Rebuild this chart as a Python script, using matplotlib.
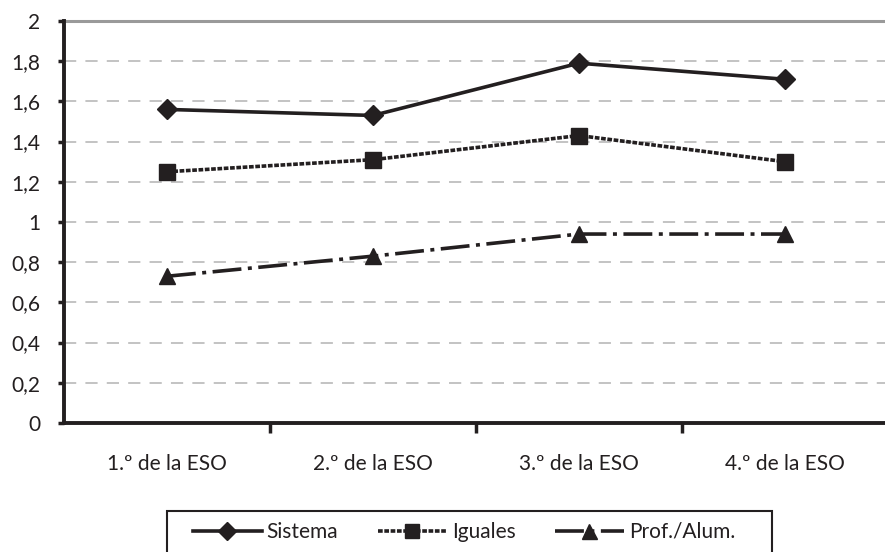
import matplotlib
matplotlib.use("Agg")
import matplotlib.pyplot as plt
from matplotlib.patches import Rectangle
from matplotlib.ticker import FuncFormatter

categories = ["1.º de la ESO", "2.º de la ESO", "3.º de la ESO", "4.º de la ESO"]
sistema = [1.56, 1.53, 1.79, 1.71]
iguales = [1.25, 1.31, 1.43, 1.30]
prof_alum = [0.73, 0.83, 0.94, 0.94]
y_ticks = [0, 0.2, 0.4, 0.6, 0.8, 1.0, 1.2, 1.4, 1.6, 1.8, 2.0]

ink = "#231f20"
plt.rcParams["font.family"] = ["Lato", "DejaVu Sans"]

W, H = 885, 552
fig = plt.figure(figsize=(W / 100, H / 100), dpi=100)
ax = fig.add_axes([0.0723, 0.2337, 0.931, 0.7283])

x = list(range(len(categories)))
ax.plot(x, sistema, color=ink, lw=2.6, ls="-", marker="D", ms=10.5,
        label="Sistema", zorder=3)
ax.plot(x, iguales, color=ink, lw=2.6, ls=(0, (1.3, 0.45)), marker="s", ms=11.5,
        label="Iguales", zorder=3)
ax.plot(x, prof_alum, color=ink, lw=2.6, ls=(0, (8, 1.8, 1.1, 1.8)), marker="^", ms=12,
        label="Prof./Alum.", zorder=3)

ax.set_xlim(-0.5, 3.5)
ax.set_ylim(0, 2)
ax.set_yticks(y_ticks)
ax.yaxis.set_major_formatter(FuncFormatter(
    lambda v, p: ("%g" % round(v, 1)).replace(".", ",")))

for v in y_ticks[1:-1]:
    ax.axhline(v, color="#b3b3b3", lw=1.1, ls=(0, (8, 6)), zorder=1)
ax.axhline(2.0, color="#9a9a9a", lw=2.2, zorder=1, clip_on=False)

ax.set_xticks(x)
ax.set_xticklabels(categories)
ax.set_xticks([0.5, 1.5, 2.5], minor=True)
ax.tick_params(axis="x", which="major", length=0, pad=22, labelsize=15, colors=ink)
ax.tick_params(axis="x", which="minor", length=7, width=2.5, color=ink, direction="out")
ax.tick_params(axis="y", length=4, width=2.5, color=ink, pad=13, labelsize=15,
               labelcolor=ink)

for s in ["top", "right"]:
    ax.spines[s].set_visible(False)
for s in ["left", "bottom"]:
    ax.spines[s].set_linewidth(2.8)
    ax.spines[s].set_color(ink)

# legend box runs past the bottom edge of the figure
fig.patches.append(Rectangle((167 / W, 1 - 570 / H), 605 / W, 59 / H,
                             transform=fig.transFigure, fill=False,
                             edgecolor=ink, lw=1.5, zorder=5))

leg = ax.legend(loc="center left", bbox_to_anchor=(193 / W, 1 - 532 / H),
                bbox_transform=fig.transFigure, ncol=3, frameon=False,
                fontsize=15, handlelength=3.3, columnspacing=1.9,
                handletextpad=0.24, borderpad=0, borderaxespad=0,
                markerscale=0.9)
for t in leg.get_texts():
    t.set_color(ink)

fig.savefig("out.png", dpi=100)
